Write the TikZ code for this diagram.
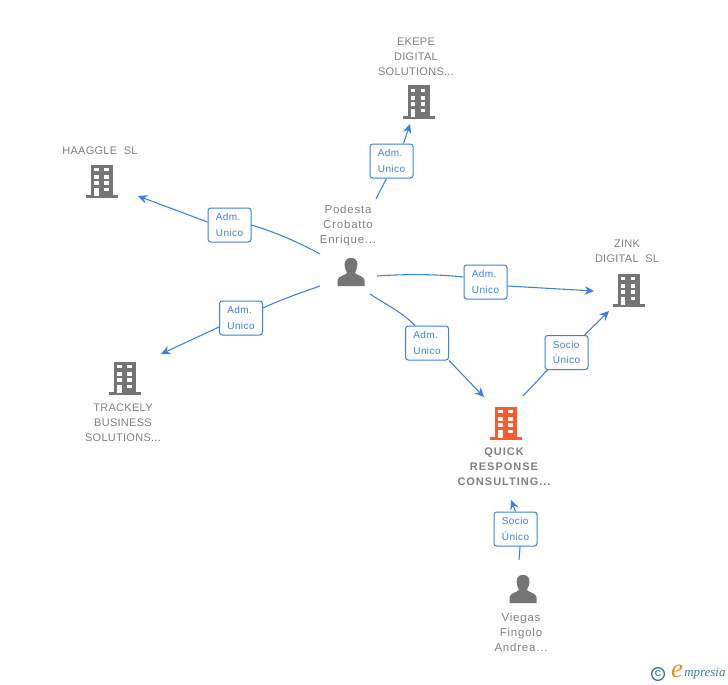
\documentclass[tikz,border=0pt]{standalone}
\usepackage{fontspec}
\setmainfont{Liberation Sans}
\newfontfamily\logofont{Liberation Serif}
\usetikzlibrary{arrows.meta}
\definecolor{edgeblue}{HTML}{3B7FE0}
\definecolor{icongray}{HTML}{757575}
\definecolor{txtgray}{HTML}{808080}
\definecolor{mainorange}{HTML}{FF5A2B}
\definecolor{logoblue}{HTML}{3A7A96}
\definecolor{logoorange}{HTML}{F08A1D}
\tikzset{
  x=0.75pt,y=-0.75pt,
  lbl/.style={draw=edgeblue,line width=0.75pt,rounded corners=2pt,fill=white,minimum width=32.25pt,minimum height=25.5pt,inner sep=0pt,align=left,text=edgeblue,font=\fontsize{7.5}{11.6}\selectfont\addfontfeatures{LetterSpace=4}},
  captxt/.style={align=center,text=txtgray,inner sep=0pt,font=\fontsize{8.25}{11.25}\selectfont\addfontfeatures{LetterSpace=2.5}},
  captxtm/.style={align=center,text=txtgray,inner sep=0pt,font=\fontsize{8.6}{11.25}\selectfont\addfontfeatures{LetterSpace=7}},
  captxtb/.style={align=center,text=txtgray,inner sep=0pt,font=\fontsize{8.25}{11.25}\selectfont\bfseries\addfontfeatures{LetterSpace=9}},
  con/.style={draw=edgeblue,line width=0.8pt},
  arr/.style={con,-{Stealth[length=7pt,width=6.5pt]}},
  pics/building/.style={code={
    \fill[#1] (-11,-15.5) rectangle (11,16);
    \fill[#1] (-16,15) rectangle (16,18);
    \foreach \ya/\yb in {-12/-8.7,-5/-1,1.3/4.7}{
      \fill[white] (-8,\ya) rectangle (-3.5,\yb);
      \fill[white] (2,\ya) rectangle (6.5,\yb);}
    \fill[white] (-8,7.5) rectangle (-3.5,16);
    \fill[white] (2,7.5) rectangle (6.5,11);
  }},
  pics/person/.style={code={
    \fill[icongray] (0,-14) .. controls (-7,-14) and (-7,-8) .. (-6,-4) .. controls (-5,-1) and (-4,0) .. (-4,1)
      .. controls (-5,3) and (-13,4) .. (-13.5,8) -- (-13.5,14) -- (13.5,14) -- (13.5,8)
      .. controls (13,4) and (5,3) .. (4,1) .. controls (4,0) and (5,-1) .. (6,-4) .. controls (7,-8) and (7,-14) .. (0,-14) -- cycle;
  }}
}
\begin{document}
\begin{tikzpicture}
\useasboundingbox (0,0) rectangle (728,685);
% icons
\pic at (102,180) {building=icongray};
\pic at (418.5,101) {building=icongray};
\pic at (628.5,289) {building=icongray};
\pic at (125,377) {building=icongray};
\pic at (506,422) {building=mainorange};
\pic at (351,272) {person};
\pic at (523,589) {person};
% captions
\node[captxt] (haaggle) at (100,151) {HAAGGLE\ \ SL};
\node[captxt] (ekepe) at (416,57) {EKEPE\\DIGITAL\\SOLUTIONS...};
\node[captxt] (zink) at (627,251) {ZINK\\DIGITAL\ \ SL};
\node[captxt] (trackely) at (123,423) {TRACKELY\\BUSINESS\\SOLUTIONS...};
\node[captxtb] (quick) at (504,467) {QUICK\\RESPONSE\\CONSULTING...};
\node[captxtm] (podesta) at (348,226) {Podesta\\Crobatto\\Enrique...};
\node[captxtm] (viegas) at (521,632) {Viegas\\Fingolo\\Andrea...};
% connector ends
\coordinate (p1) at (320,254);
\coordinate (p2) at (376,199);
\coordinate (p3) at (377,276);
\coordinate (p4) at (320,286);
\coordinate (p5) at (370,294);
\coordinate (q6) at (523,396);
\coordinate (v7) at (519,560);
\coordinate (t1) at (138,196);
\coordinate (t2) at (410,124);
\coordinate (t3) at (594,291);
\coordinate (t4) at (161,354);
\coordinate (t5) at (484,397);
\coordinate (t6) at (609,311);
\coordinate (t7) at (511,500);
% labels
\node[lbl] (l1) at (229.5,225) {Adm.\\Unico};
\node[lbl] (l2) at (391.5,161) {Adm.\\Unico};
\node[lbl] (l3) at (485.5,282) {Adm.\\Unico};
\node[lbl] (l4) at (241,318) {Adm.\\Unico};
\node[lbl] (l5) at (427,343) {Adm.\\Unico};
\node[lbl] (l6) at (566.5,352.5) {Socio\\Único};
\node[lbl] (l7) at (515.5,529) {Socio\\Único};
% connectors
\draw[con] (p1) .. controls (300,243) and (275,232) .. (l1.east);
\draw[arr] (l1.west) ++(0,-3) -- (t1);
\draw[con] (p2) -- ([xshift=-3.75pt]l2.south);
\draw[arr] (l2.north east) ++(-10,0) -- (t2);
\draw[con] (p3) .. controls (405,274) and (435,274) .. ([yshift=3.75pt]l3.west);
\draw[arr] (l3.east) ++(0,4) -- (t3);
\draw[con] (p4) .. controls (300,293) and (280,300) .. ([yshift=7.5pt]l4.east);
\draw[arr] (l4.west) ++(0,9) -- (t4);
\draw[con] (p5) .. controls (385,304) and (402,312) .. ([xshift=-9pt]l5.north);
\draw[arr] (l5.south east) -- (t5);
\draw[con] (q6) -- ([xshift=2.25pt]l6.south west);
\draw[arr] (l6.north east) ++(-4,0) -- (t6);
\draw[con] (v7) -- ([xshift=3.4pt]l7.south);
\draw[arr] (l7.north) -- (t7);
% logo
\node[draw=logoblue,circle,line width=1pt,minimum size=9.5pt,inner sep=0pt,text=logoblue,font=\fontsize{6.5}{6.5}\selectfont\bfseries] (copyr) at (658,674) {C};
\node[inner sep=0pt,text=logoorange,font=\logofont\fontsize{20}{20}\selectfont\itshape] (loge) at (677,671) {e};
\node[inner sep=0pt,anchor=west,text=logoblue,font=\logofont\fontsize{9.7}{10}\selectfont\itshape] (logt) at (684,674) {mpresia};
\end{tikzpicture}
\end{document}
